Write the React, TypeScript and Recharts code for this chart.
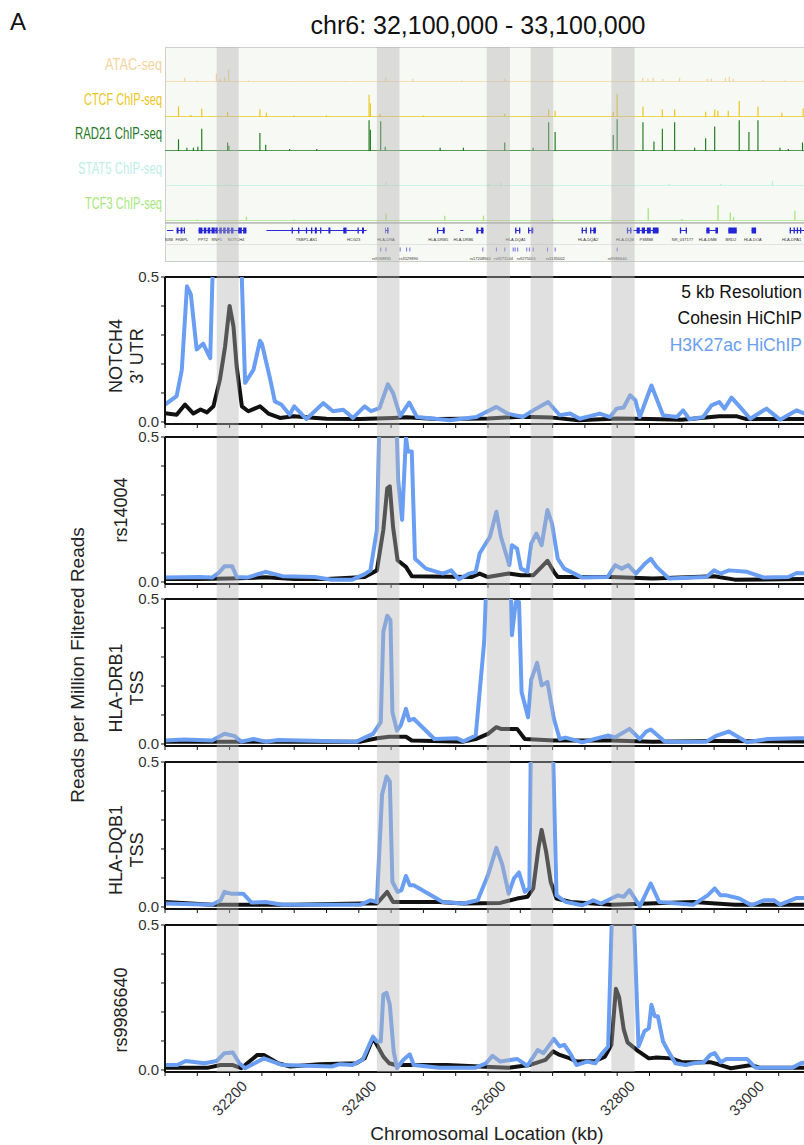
import React from 'react';
import {
  LineChart,
  Line,
  XAxis,
  YAxis,
  ReferenceArea,
  ReferenceLine,
  BarChart,
  Bar,
  ComposedChart,
  Scatter,
} from 'recharts';

const FONT = '"Liberation Sans", Arial, Helvetica, sans-serif';
const KB_DOMAIN: [number, number] = [32100, 33100];
const PLOT_LEFT = 165;
const PLOT_W = 646;
const CHART_W = PLOT_LEFT + PLOT_W;

const COHESIN = '#111111';
const H3K27AC = '#6a9ef2';

// anchor regions shaded across all tracks (kb)
const anchorBands: [number, number][] = [
  [32180, 32214],
  [32428, 32463],
  [32598, 32634],
  [32666, 32701],
  [32791, 32827],
];

const xTicks = [32100, 32150, 32200, 32250, 32300, 32350, 32400, 32450, 32500, 32550, 32600, 32650, 32700, 32750, 32800, 32850, 32900, 32950, 33000, 33050, 33100];
const yTicks = [0, 0.1, 0.2, 0.3, 0.4, 0.5];

// ---- HiChIP virtual 4C profiles: [kb, reads per million] ----
const notch4Cohesin: [number, number][] = [[32100,0.03],[32118,0.025],[32131,0.06],[32144,0.029],[32155,0.043],[32165,0.033],[32175,0.054],[32185,0.146],[32193,0.26],[32200,0.40],[32206,0.33],[32211,0.19],[32219,0.054],[32229,0.037],[32247,0.054],[32260,0.029],[32278,0.014],[32299,0.02],[32350,0.011],[32402,0.01],[32453,0.014],[32474,0.016],[32520,0.01],[32600,0.012],[32650,0.018],[32700,0.015],[32740,0.006],[32800,0.012],[32850,0.01],[32900,0.008],[32958,0.02],[32984,0.02],[33000,0.01],[33050,0.01],[33100,0.01]];
const notch4H3k27ac: [number, number][] = [[32100,0.06],[32118,0.089],[32126,0.18],[32134,0.468],[32140,0.44],[32149,0.25],[32159,0.27],[32170,0.22],[32176,0.7],[32216,0.7],[32224,0.135],[32237,0.18],[32247,0.28],[32250,0.27],[32263,0.146],[32270,0.071],[32280,0.06],[32293,0.025],[32300,0.054],[32319,0.01],[32345,0.065],[32360,0.037],[32376,0.042],[32391,0.014],[32409,0.054],[32419,0.037],[32432,0.048],[32445,0.13],[32453,0.1],[32464,0.02],[32478,0.067],[32490,0.017],[32541,0.006],[32582,0.017],[32613,0.052],[32630,0.029],[32654,0.017],[32670,0.04],[32693,0.069],[32711,0.023],[32727,0.029],[32742,0.011],[32773,0.029],[32789,0.017],[32799,0.046],[32810,0.05],[32820,0.092],[32828,0.075],[32835,0.017],[32853,0.126],[32863,0.069],[32871,0.023],[32892,0.017],[32902,0.04],[32912,0.009],[32933,0.017],[32946,0.057],[32958,0.069],[32966,0.046],[32977,0.084],[32990,0.052],[33006,0.011],[33031,0.046],[33052,0.008],[33078,0.04],[33100,0.02]];

const rs14004Cohesin: [number, number][] = [[32100,0.01],[32150,0.01],[32200,0.012],[32256,0.016],[32300,0.01],[32350,0.01],[32409,0.017],[32428,0.04],[32438,0.18],[32444,0.323],[32448,0.33],[32453,0.19],[32460,0.075],[32473,0.052],[32482,0.02],[32575,0.017],[32587,0.029],[32600,0.017],[32632,0.029],[32651,0.023],[32670,0.023],[32683,0.052],[32692,0.073],[32702,0.035],[32708,0.017],[32791,0.017],[32855,0.012],[32950,0.02],[32982,0.008],[33100,0.01]];
const rs14004H3k27ac: [number, number][] = [[32100,0.015],[32154,0.017],[32173,0.015],[32183,0.031],[32192,0.054],[32204,0.054],[32211,0.017],[32227,0.015],[32256,0.035],[32282,0.02],[32332,0.017],[32358,0.008],[32390,0.008],[32409,0.027],[32418,0.04],[32428,0.18],[32433,0.65],[32457,0.65],[32461,0.35],[32467,0.214],[32473,0.5],[32476,0.45],[32482,0.45],[32487,0.08],[32504,0.046],[32530,0.029],[32543,0.04],[32555,0.009],[32571,0.029],[32581,0.035],[32587,0.098],[32603,0.156],[32613,0.242],[32620,0.156],[32633,0.058],[32637,0.127],[32645,0.115],[32651,0.046],[32661,0.035],[32667,0.133],[32675,0.167],[32683,0.127],[32692,0.248],[32699,0.202],[32708,0.08],[32718,0.046],[32746,0.015],[32785,0.017],[32797,0.058],[32807,0.046],[32817,0.058],[32829,0.029],[32842,0.061],[32852,0.08],[32861,0.052],[32880,0.012],[32938,0.017],[32950,0.04],[32960,0.029],[32973,0.04],[33001,0.035],[33027,0.015],[33065,0.017],[33078,0.031],[33100,0.029]];

const drb1Cohesin: [number, number][] = [[32100,0.008],[32200,0.008],[32300,0.008],[32403,0.008],[32428,0.02],[32447,0.025],[32473,0.025],[32482,0.012],[32562,0.008],[32581,0.017],[32600,0.035],[32613,0.058],[32620,0.052],[32645,0.052],[32657,0.017],[32702,0.012],[32791,0.012],[32855,0.008],[32950,0.01],[33100,0.008]];
const drb1H3k27ac: [number, number][] = [[32100,0.012],[32129,0.015],[32173,0.012],[32192,0.035],[32208,0.027],[32218,0.008],[32237,0.017],[32256,0.008],[32275,0.014],[32396,0.008],[32422,0.035],[32434,0.075],[32438,0.387],[32444,0.442],[32449,0.427],[32452,0.11],[32459,0.046],[32465,0.064],[32473,0.121],[32478,0.081],[32485,0.087],[32517,0.017],[32552,0.02],[32562,0.009],[32581,0.029],[32594,0.35],[32600,0.7],[32633,0.7],[32637,0.375],[32643,0.49],[32648,0.49],[32652,0.179],[32662,0.092],[32667,0.222],[32676,0.28],[32683,0.202],[32692,0.214],[32702,0.087],[32711,0.017],[32720,0.022],[32746,0.006],[32785,0.029],[32797,0.023],[32819,0.052],[32835,0.017],[32845,0.043],[32852,0.05],[32874,0.008],[32938,0.008],[32954,0.029],[32973,0.043],[33001,0.006],[33033,0.017],[33078,0.02],[33100,0.02]];

const dqb1Cohesin: [number, number][] = [[32100,0.017],[32173,0.008],[32300,0.008],[32403,0.012],[32428,0.012],[32444,0.052],[32453,0.017],[32466,0.017],[32524,0.017],[32562,0.012],[32619,0.014],[32645,0.029],[32661,0.035],[32670,0.064],[32678,0.202],[32683,0.266],[32690,0.19],[32697,0.087],[32706,0.029],[32728,0.017],[32791,0.008],[32918,0.017],[32982,0.008],[33100,0.008]];
const dqb1H3k27ac: [number, number][] = [[32100,0.012],[32173,0.008],[32186,0.023],[32192,0.052],[32202,0.046],[32221,0.046],[32234,0.015],[32256,0.017],[32282,0.008],[32403,0.008],[32418,0.023],[32428,0.017],[32436,0.387],[32443,0.45],[32448,0.433],[32452,0.087],[32460,0.052],[32466,0.058],[32473,0.107],[32479,0.075],[32485,0.075],[32530,0.017],[32562,0.012],[32584,0.023],[32600,0.11],[32613,0.204],[32622,0.147],[32632,0.046],[32640,0.098],[32648,0.119],[32657,0.052],[32664,0.064],[32667,0.7],[32699,0.7],[32706,0.04],[32721,0.017],[32746,0.006],[32763,0.023],[32775,0.012],[32791,0.029],[32801,0.04],[32810,0.035],[32819,0.058],[32835,0.002],[32852,0.081],[32865,0.017],[32918,0.008],[32940,0.04],[32951,0.064],[32960,0.04],[32969,0.04],[32989,0.029],[33008,0.006],[33027,0.023],[33043,0.023],[33052,0.008],[33078,0.031],[33100,0.031]];

const rs9986640Cohesin: [number, number][] = [[32100,0.008],[32167,0.008],[32186,0.017],[32205,0.017],[32218,0.006],[32243,0.052],[32253,0.052],[32275,0.023],[32294,0.012],[32339,0.02],[32396,0.023],[32409,0.04],[32422,0.11],[32428,0.087],[32438,0.046],[32447,0.023],[32457,0.017],[32536,0.017],[32587,0.012],[32632,0.008],[32664,0.017],[32689,0.035],[32701,0.064],[32711,0.052],[32727,0.04],[32737,0.029],[32766,0.031],[32781,0.046],[32791,0.087],[32798,0.28],[32803,0.25],[32810,0.141],[32816,0.095],[32832,0.066],[32849,0.04],[32861,0.043],[32884,0.04],[32900,0.027],[32944,0.027],[32960,0.017],[32976,0.006],[33008,0.017],[33020,0.008],[33100,0.008]];
const rs9986640H3k27ac: [number, number][] = [[32100,0.017],[32119,0.017],[32132,0.031],[32161,0.023],[32180,0.031],[32192,0.058],[32205,0.06],[32215,0.023],[32224,0.006],[32253,0.04],[32282,0.017],[32358,0.012],[32371,0.02],[32390,0.017],[32406,0.035],[32415,0.081],[32422,0.115],[32428,0.098],[32434,0.098],[32438,0.26],[32443,0.266],[32448,0.225],[32454,0.064],[32459,0.006],[32469,0.035],[32479,0.054],[32485,0.017],[32524,0.008],[32581,0.008],[32597,0.023],[32607,0.049],[32619,0.029],[32645,0.038],[32661,0.014],[32677,0.069],[32686,0.058],[32702,0.107],[32711,0.081],[32718,0.087],[32727,0.058],[32737,0.017],[32753,0.029],[32766,0.023],[32775,0.052],[32786,0.081],[32794,0.7],[32823,0.7],[32833,0.081],[32842,0.133],[32849,0.144],[32853,0.225],[32858,0.185],[32863,0.185],[32871,0.098],[32878,0.069],[32890,0.023],[32906,0.017],[32918,0.023],[32934,0.027],[32944,0.052],[32951,0.058],[32960,0.027],[32969,0.038],[33001,0.038],[33014,0.008],[33071,0.008],[33084,0.023],[33100,0.03]];

const viewpoints = ['NOTCH4\n3\u2019 UTR', 'rs14004', 'HLA-DRB1\nTSS', 'HLA-DQB1\nTSS', 'rs9986640'];

// ---- genome browser tracks: [kb, signal] ----
const atacSignal: [number, number][] = [[32131,4],[32150,1.5],[32180,8],[32186,3],[32193,5],[32199,12],[32230,1.5],[32300,1],[32380,1],[32442,4],[32484,3],[32560,1.5],[32626,3],[32700,1.5],[32840,4],[32848,3],[32856,4],[32871,3],[32897,4],[32940,3],[32946,3],[32968,4],[32974,5],[32980,3],[33026,2],[33060,1.5]];
const ctcfSignal: [number, number][] = [[32121,10],[32140,2],[32157,8],[32197,5],[32247,7],[32257,4],[32300,1.5],[32350,1.5],[32416,21],[32418,13],[32433,3],[32500,1.5],[32626,3],[32694,7],[32704,6],[32794,5],[32800,22],[32840,10],[32870,7],[32889,7],[32937,5],[32951,7],[32956,6],[32972,6],[32989,15],[33018,10],[33055,4],[33088,8]];
const rad21Signal: [number, number][] = [[32121,11],[32134,3],[32144,3],[32151,4],[32157,21],[32197,8],[32199,5],[32247,17],[32256,6],[32293,2],[32335,2],[32416,29],[32418,20],[32434,28],[32441,4],[32526,3],[32562,3],[32626,8],[32670,3],[32694,27],[32704,18],[32794,15],[32800,30],[32840,27],[32857,9],[32870,21],[32889,27],[32920,3],[32937,12],[32951,23],[32989,29],[33004,18],[33018,29],[33052,3],[33065,2],[33087,8]];
const stat5Signal: [number, number][] = [[32200,1.5],[32442,4],[32600,2],[32620,3],[32880,2],[32960,2],[33040,5]];
const tcf3Signal: [number, number][] = [[32150,1.5],[32226,4],[32300,1.5],[32442,7],[32533,5],[32593,5],[32700,2],[32848,12],[32900,2],[32956,15],[32975,8],[32980,4],[33075,10]];

const tracks = [
  { name: 'ATAC-seq', color: '#f3d49e', data: atacSignal, labelW: 57 },
  { name: 'CTCF ChIP-seq', color: '#ebc41c', data: ctcfSignal, labelW: 78 },
  { name: 'RAD21 ChIP-seq', color: '#1f7a1f', data: rad21Signal, labelW: 87 },
  { name: 'STAT5 ChIP-seq', color: '#bdeee6', data: stat5Signal, labelW: 84 },
  { name: 'TCF3 ChIP-seq', color: '#a6e67c', data: tcf3Signal, labelW: 77 },
];

// gene models (kb)
const geneSpans: [number, number][] = [[32103,32113],[32118,32131],[32152,32226],[32257,32412],[32441,32446],[32521,32533],[32557,32562],[32582,32593],[32642,32650],[32662,32670],[32745,32753],[32758,32767],[32815,32822],[32825,32864],[32897,32908],[32938,32956],[32972,32985],[33008,33015],[33067,33100]];
const geneExons: [number, number][] = [[32118,32121],[32124,32127],[32129,32131],[32152,32158],[32160,32164],[32166,32170],[32172,32177],[32178,32182],[32184,32188],[32190,32194],[32196,32200],[32202,32206],[32213,32219],[32221,32226],[32296,32298],[32306,32308],[32318,32320],[32326,32328],[32332,32335],[32340,32342],[32353,32356],[32376,32381],[32398,32400],[32405,32408],[32441,32442],[32444,32446],[32521,32523],[32530,32533],[32582,32585],[32589,32593],[32642,32644],[32648,32650],[32662,32664],[32667,32670],[32745,32747],[32751,32753],[32758,32760],[32763,32767],[32815,32817],[32820,32822],[32830,32835],[32838,32843],[32846,32852],[32855,32864],[32897,32899],[32906,32908],[32938,32943],[32952,32956],[32972,32985],[33008,33015],[33067,33069],[33073,33075],[33078,33080],[33083,33085]];
const geneNames: [string, number][] = [['NXB',32106],['FKBPL',32126],['PPT2',32159],['RNF5',32180],['NOTCH4',32210],['TSBP1-AS1',32319],['HCG23',32392],['HLA-DRA',32442],['HLA-DRB5',32523],['HLA-DRB6',32562],['HLA-DQA1',32643],['HLA-DQA2',32755],['HLA-DQB',32812],['PSMB8',32845],['NR_037177',32901],['HLA-DMB',32940],['BRD2',32976],['HLA-DOA',33010],['HLA-DPA1',33070]];
const snpSites = [32434, 32442, 32464, 32474, 32479, 32592, 32613, 32626, 32639, 32642, 32646, 32660, 32664, 32670, 32692, 32704, 32800];
const snpNames: [string, number][] = [['rs9268835',32435],['rs3129890',32477],['rs17208940',32588],['rs9271544',32624],['rs9275053',32659],['rs3135002',32704],['rs9986640',32800]];

const panelTops = [277, 437, 599, 762, 925];
const panelLabelY = [356, 510, 688, 850, 1010];
const panels = [
  { cohesin: notch4Cohesin, h3k27ac: notch4H3k27ac },
  { cohesin: rs14004Cohesin, h3k27ac: rs14004H3k27ac },
  { cohesin: drb1Cohesin, h3k27ac: drb1H3k27ac },
  { cohesin: dqb1Cohesin, h3k27ac: dqb1H3k27ac },
  { cohesin: rs9986640Cohesin, h3k27ac: rs9986640H3k27ac },
];

const toRows = (pairs: [number, number][]) => pairs.map(([kb, v]) => ({ kb, v }));

const KbTick = (props: any) => {
  const { x, y, payload } = props;
  if (payload.value % 200 !== 0 || payload.value === 32100 || payload.value === 33100) return <g />;
  const cy = y + 20;
  return (
    <text x={x} y={cy} transform={`rotate(-45 ${x} ${cy})`} textAnchor="middle" dominantBaseline="central" fontSize={15} fill="#333" fontFamily={FONT}>
      {payload.value}
    </text>
  );
};

function HiChIPPanel({ top, cohesin, h3k27ac, last }: any) {
  const padTop = 10;
  const plotH = 147;
  const axisH = last ? 56 : 6;
  return (
    <div style={{ position: 'absolute', left: 0, top: top - padTop }}>
      <LineChart width={CHART_W} height={padTop + plotH + axisH} margin={{ top: padTop, right: 0, bottom: 0, left: 0 }}>
        <XAxis
          type="number"
          dataKey="kb"
          domain={KB_DOMAIN}
          allowDataOverflow
          ticks={xTicks}
          interval={0}
          height={axisH}
          axisLine={{ stroke: '#111', strokeWidth: 2 }}
          tickLine={{ stroke: '#111' }}
          tickSize={4}
          tick={last ? <KbTick /> : () => <g />}
        />
        <YAxis
          type="number"
          domain={[-0.007, 0.5]}
          allowDataOverflow
          ticks={yTicks}
          interval={0}
          width={PLOT_LEFT}
          axisLine={{ stroke: '#111', strokeWidth: 2 }}
          tickLine={{ stroke: '#111' }}
          tickSize={4}
          tickMargin={2}
          tick={{ fontSize: 15, fill: '#333', fontFamily: FONT }}
          tickFormatter={(v: number) => (v === 0 ? '0.0' : v === 0.5 ? '0.5' : '')}
        />
        <ReferenceLine y={0.5} stroke="#111" strokeWidth={2} />
        <Line data={toRows(cohesin)} dataKey="v" type="linear" stroke={COHESIN} strokeWidth={4} strokeLinejoin="round" dot={false} activeDot={false} isAnimationActive={false} />
        <Line data={toRows(h3k27ac)} dataKey="v" type="linear" stroke={H3K27AC} strokeWidth={4} strokeLinejoin="round" dot={false} activeDot={false} isAnimationActive={false} />
      </LineChart>
    </div>
  );
}

function SignalTrack({ top, color, data }: any) {
  const rows = data.map(([kb, h]: [number, number]) => ({ kb, h }));
  return (
    <div style={{ position: 'absolute', left: 0, top }}>
      <BarChart width={CHART_W} height={34} data={rows} margin={{ top: 0, right: 0, bottom: 0, left: PLOT_LEFT }}>
        <XAxis type="number" dataKey="kb" domain={KB_DOMAIN} hide />
        <YAxis type="number" domain={[0, 32]} hide />
        <ReferenceLine y={0} stroke={color} strokeWidth={1.5} />
        <Bar dataKey="h" fill={color} barSize={1.3} isAnimationActive={false} />
      </BarChart>
    </div>
  );
}

function GeneTrack() {
  const labels = geneNames.map(([name, kb]) => ({ kb, y: 19, name }));
  const snpLabels = snpNames.map(([name, kb]) => ({ kb, y: 37.5, name }));
  const textShape = (p: any) => (
    <text x={p.cx} y={p.cy} textAnchor="middle" fontSize={4} fill="#333" fontFamily={FONT}>
      {p.payload.name}
    </text>
  );
  return (
    <div style={{ position: 'absolute', left: 0, top: 222 }}>
      <ComposedChart width={CHART_W} height={40} margin={{ top: 0, right: 0, bottom: 0, left: PLOT_LEFT }}>
        <XAxis type="number" dataKey="kb" domain={KB_DOMAIN} hide allowDataOverflow />
        <YAxis type="number" dataKey="y" domain={[0, 40]} reversed hide />
        <ReferenceLine y={0.8} stroke="#bdbdbd" strokeWidth={2} />
        <ReferenceLine y={22.5} stroke="#e2e2e2" strokeWidth={1} />
        {geneSpans.map(([a, b], i) => (
          <ReferenceLine key={`g${i}`} segment={[{ x: a, y: 8.5 }, { x: b, y: 8.5 }]} stroke="#2a2ad8" strokeWidth={1} ifOverflow="hidden" />
        ))}
        {geneExons.map(([a, b], i) => (
          <ReferenceArea key={`e${i}`} x1={a} x2={b} y1={5.5} y2={11.5} fill="#2323d6" fillOpacity={1} stroke="none" />
        ))}
        {snpSites.map((kb, i) => (
          <ReferenceLine key={`s${i}`} segment={[{ x: kb, y: 25.5 }, { x: kb, y: 29.5 }]} stroke="#6f6fe0" strokeWidth={1} />
        ))}
        <Scatter data={labels} dataKey="y" shape={textShape} isAnimationActive={false} />
        <Scatter data={snpLabels} dataKey="y" shape={textShape} isAnimationActive={false} />
      </ComposedChart>
    </div>
  );
}

function BandOverlay() {
  return (
    <div style={{ position: 'absolute', left: 0, top: 47, pointerEvents: 'none', zIndex: 10 }}>
      <LineChart width={CHART_W} height={1025} data={[{ kb: 32100, v: 0 }, { kb: 33100, v: 0 }]} margin={{ top: 0, right: 0, bottom: 0, left: PLOT_LEFT }}>
        <XAxis type="number" dataKey="kb" domain={KB_DOMAIN} hide />
        <YAxis type="number" domain={[0, 1]} hide />
        <Line dataKey="v" stroke="none" dot={false} activeDot={false} isAnimationActive={false} />
        {anchorBands.map(([a, b]) => (
          <ReferenceArea key={a} x1={a} x2={b} fill="#b6b6b6" fillOpacity={0.42} stroke="none" />
        ))}
      </LineChart>
    </div>
  );
}

export default function App() {
  const trackBaselines = [82, 117, 151, 186, 221];
  return (
    <div style={{ position: 'absolute', left: 0, top: 0, width: 804, height: 1145, overflow: 'hidden', background: '#fff', fontFamily: FONT }}>
      <div style={{ position: 'absolute', left: PLOT_LEFT, top: 47, width: 700, height: 215, background: '#f7f9f4', border: '1px solid #cfcfcf', boxSizing: 'border-box' }} />
      {tracks.map((t, i) => (
        <SignalTrack key={t.name} top={trackBaselines[i] - 34} color={t.color} data={t.data} />
      ))}
      <GeneTrack />
      {panels.map((p, i) => (
        <HiChIPPanel key={i} top={panelTops[i]} cohesin={p.cohesin} h3k27ac={p.h3k27ac} last={i === panels.length - 1} />
      ))}
      <svg width={804} height={1145} style={{ position: 'absolute', left: 0, top: 0, pointerEvents: 'none' }} fontFamily={FONT}>
        <text x={10} y={30} fontSize={24} fill="#111">A</text>
        <text x={478} y={34} fontSize={25} fill="#111" textAnchor="middle">chr6: 32,100,000 - 33,100,000</text>
        {tracks.map((t, i) => (
          <text key={t.name} x={162} y={trackBaselines[i] - 12} fontSize={16} fill={t.color} textAnchor="end" textLength={t.labelW} lengthAdjust="spacingAndGlyphs">
            {t.name}
          </text>
        ))}
        {viewpoints.map((label, i) => {
          const lines = label.split('\n');
          const cy = panelLabelY[i];
          return (
            <text key={label} transform={`translate(${lines.length > 1 ? 122 : 127} ${cy}) rotate(-90)`} fontSize={18} fill="#222" textAnchor="middle">
              {lines.map((ln, j) => (
                <tspan key={j} x={0} dy={j === 0 ? 0 : 21}>{ln}</tspan>
              ))}
            </text>
          );
        })}
        <text transform="translate(84 665) rotate(-90)" fontSize={19} fill="#222" textAnchor="middle">Reads per Million Filtered Reads</text>
        <text x={802} y={298} fontSize={17.5} fill="#111" textAnchor="end">5 kb Resolution</text>
        <text x={802} y={324} fontSize={17.5} fill="#111" textAnchor="end">Cohesin HiChIP</text>
        <text x={802} y={351} fontSize={17.5} fill={H3K27AC} textAnchor="end">H3K27ac HiChIP</text>
        <text x={487} y={1140} fontSize={19} fill="#222" textAnchor="middle">Chromosomal Location (kb)</text>
      </svg>
      <BandOverlay />
    </div>
  );
}
